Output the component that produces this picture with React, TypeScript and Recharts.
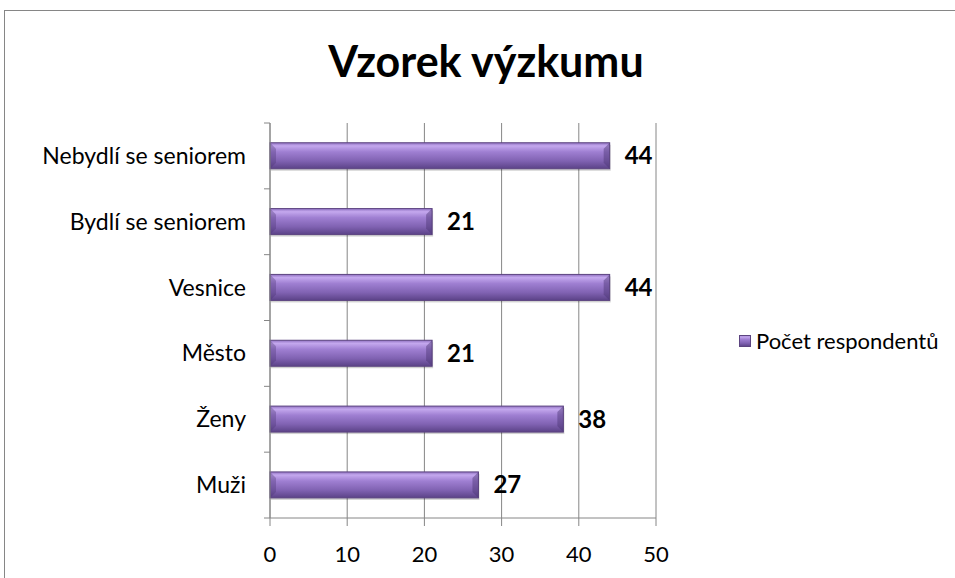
import { BarChart, Bar, XAxis, YAxis, CartesianGrid, Legend, LabelList } from "recharts";

const categories = ["Nebydlí se seniorem", "Bydlí se seniorem", "Vesnice", "Město", "Ženy", "Muži"];
const respondents = [44, 21, 44, 21, 38, 27];
const xTicks = [0, 10, 20, 30, 40, 50];

const data = categories.map((name, i) => ({ name, value: respondents[i] }));

const FONT = "Lato, 'Open Sans', sans-serif";
const PLOT_TOP = 123;
const PLOT_H = 395;
const BAND = PLOT_H / categories.length;

const CategoryTick = ({ x, y, payload, index }: any) => (
  <g>
    <text x={x - 24} y={y} dy={8} textAnchor="end" fontSize={23} fill="#000" fontFamily={FONT}>
      {payload.value}
    </text>
    <line x1={x - 6} x2={x} y1={y - BAND / 2} y2={y - BAND / 2} stroke="#868686" />
    {index === categories.length - 1 && (
      <line x1={x - 6} x2={x} y1={y + BAND / 2} y2={y + BAND / 2} stroke="#868686" />
    )}
  </g>
);

// bevelled bar, like the Office 2007 style
const BevelBar = ({ x, y, width, height }: any) => {
  const b = 6;
  return (
    <g>
      <rect x={x + 1} y={y + 2} width={width} height={height} fill="#000" opacity={0.18} />
      <rect x={x} y={y} width={width} height={height} fill="url(#barFill)" stroke="#5c4480" strokeWidth={1} />
      <polygon points={`${x},${y} ${x + b},${y + b} ${x + b},${y + height - b} ${x},${y + height}`} fill="#4b3573" opacity={0.35} />
      <polygon points={`${x + width},${y} ${x + width - b},${y + b} ${x + width - b},${y + height - b} ${x + width},${y + height}`} fill="#4b3573" opacity={0.45} />
    </g>
  );
};

const LegendContent = () => (
  <div style={{ display: "flex", alignItems: "center", fontFamily: FONT, fontSize: 22, color: "#000", whiteSpace: "nowrap" }}>
    <svg width={12} height={12} style={{ marginRight: 5 }}>
      <rect x={0.5} y={0.5} width={11} height={11} fill="url(#barFill)" stroke="#5c4480" />
    </svg>
    Počet respondentů
  </div>
);

const App = () => {
  return (
    <div style={{ position: "absolute", left: 0, top: 0, width: 955, height: 578, background: "#fff", overflow: "hidden" }}>
      <div style={{ position: "absolute", left: 4, top: 10, width: 960, height: 600, borderTop: "1px solid #868686", borderLeft: "1px solid #868686" }} />
      <svg width={955} height={100} style={{ position: "absolute", left: 0, top: 0 }}>
        <text x={486} y={77} textAnchor="middle" fontFamily={FONT} fontWeight={700} fontSize={43} fill="#000">
          Vzorek výzkumu
        </text>
      </svg>
      <BarChart
        width={955}
        height={578}
        data={data}
        layout="vertical"
        barCategoryGap="30%"
        margin={{ top: PLOT_TOP, right: 299, bottom: 0, left: 0 }}
        style={{ position: "absolute", left: 0, top: 0 }}
      >
        <defs>
          <linearGradient id="barFill" x1="0" y1="0" x2="0" y2="1">
            <stop offset="0%" stopColor="#8f70c0" />
            <stop offset="12%" stopColor="#c4a8ee" />
            <stop offset="35%" stopColor="#9f7fd2" />
            <stop offset="70%" stopColor="#8062b2" />
            <stop offset="100%" stopColor="#5b4287" />
          </linearGradient>
        </defs>
        <CartesianGrid horizontal={false} stroke="#868686" />
        <XAxis
          type="number"
          domain={[0, 50]}
          ticks={xTicks}
          height={60}
          tickSize={8}
          tickMargin={20}
          stroke="#868686"
          tick={{ fontSize: 22, fill: "#000", fontFamily: FONT }}
        />
        <YAxis
          type="category"
          dataKey="name"
          width={270}
          tickLine={false}
          tickSize={0}
          tickMargin={0}
          stroke="#868686"
          tick={<CategoryTick />}
          interval={0}
        />
        <Legend
          layout="horizontal"
          align="center"
          verticalAlign="middle"
          content={<LegendContent />}
          wrapperStyle={{ left: 739, top: 327, width: 215 }}
        />
        <Bar dataKey="value" name="Počet respondentů" fill="url(#barFill)" shape={<BevelBar />} isAnimationActive={false}>
          <LabelList
            dataKey="value"
            position="right"
            offset={15}
            style={{ fontSize: 24, fontWeight: 700, fill: "#000", fontFamily: FONT }}
          />
        </Bar>
      </BarChart>
    </div>
  );
};

export default App;
